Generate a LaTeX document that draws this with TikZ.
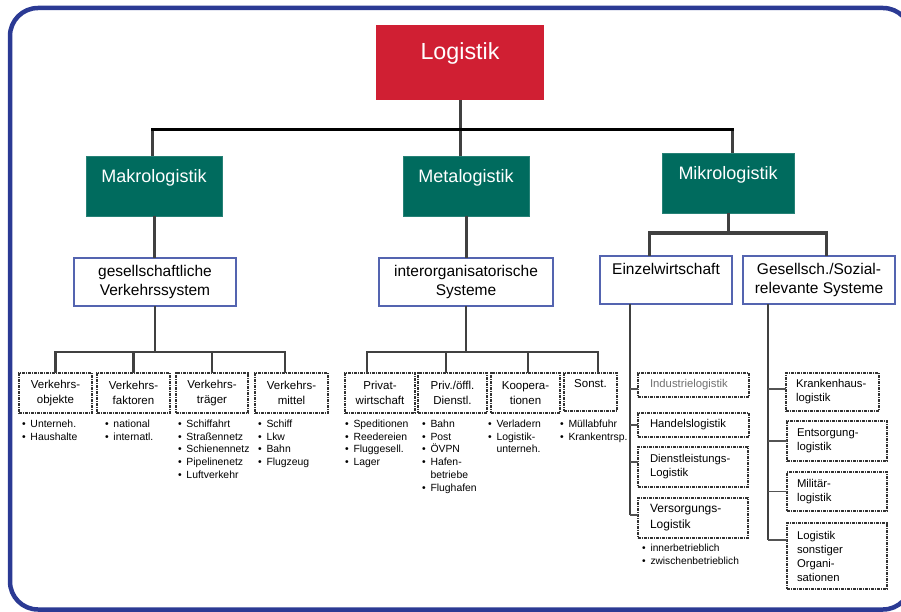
\documentclass[tikz,border=0pt]{standalone}
\usepackage{fontspec}
\setmainfont{Liberation Sans}
\usetikzlibrary{calc}
\definecolor{frameblue}{HTML}{2B3A94}
\definecolor{logred}{HTML}{D01F33}
\definecolor{tealbox}{HTML}{006B5E}
\definecolor{boxblue}{HTML}{5464B0}
\definecolor{conngray}{HTML}{404040}
\definecolor{dashgray}{HTML}{333333}
\definecolor{lightgraytext}{HTML}{707070}
\newcommand\lbul{\makebox[8.5pt][l]{\textbullet}}
\tikzset{
  every node/.style={inner sep=0pt, outer sep=0pt},
  outerframe/.style={draw=frameblue, line width=4.5pt, rounded corners=28pt},
  redbox/.style={fill=logred, minimum width=168pt, minimum height=75pt},
  tbox/.style={fill=tealbox, draw=tealbox!85!white, line width=0.8pt},
  bigtext/.style={text=white, font=\fontsize{23.3}{26}\selectfont, anchor=base},
  midtext/.style={text=white, font=\fontsize{18}{21}\selectfont, anchor=base},
  wbox/.style={draw=boxblue, line width=1.3pt, fill=white, align=center,
    font=\fontsize{15.5}{19}\selectfont, minimum height=48pt},
  dbox/.style={draw=dashgray, line width=1.4pt,
    dash pattern=on 2.6pt off 1.2pt on 1pt off 1.2pt, align=center,
    font=\fontsize{11.5}{15.5}\selectfont},
  lbox/.style={draw=dashgray, line width=1.4pt,
    dash pattern=on 2.6pt off 1.2pt on 1pt off 1.2pt, align=left,
    font=\fontsize{11.3}{14}\selectfont},
  lst/.style={anchor=north west, align=left, font=\fontsize{10.4}{12.7}\selectfont},
  conn/.style={draw=conngray, line width=3pt},
  conn2/.style={draw=conngray, line width=2.6pt},
  busline/.style={draw=black, line width=3pt, line cap=rect},
  tickline/.style={draw=conngray!90!white, line width=1.2pt},
}
\begin{document}
\begin{tikzpicture}[x=1pt,y=-1pt]
\useasboundingbox (0,0) rectangle (901,612);
\clip (0,0) rectangle (901,612);
\draw[outerframe] (10,8) rectangle (911,609.5);

% ---------- top level
\node[redbox] (logistik) at (460,62.5) {};
\node[bigtext] (logistikt) at (460,60) {Logistik};

\node[tbox, minimum width=136pt, minimum height=60pt] (makro) at (154,186) {};
\node[midtext] (makrot) at (154,183) {Makrologistik};
\node[tbox, minimum width=126pt, minimum height=60pt] (meta) at (466,186) {};
\node[midtext] (metat) at (466,183) {Metalogistik};
\node[tbox, minimum width=132pt, minimum height=60pt] (mikro) at (728,183) {};
\node[midtext] (mikrot) at (728,180) {Mikrologistik};

% ---------- second level
\node[wbox, minimum width=162pt] (gesell) at (155,282) {gesellschaftliche\\Verkehrssystem};
\node[wbox, minimum width=174pt] (interorg) at (466,282) {interorganisatorische\\Systeme};
\node[wbox, minimum width=132pt] (einzel) at (666,280) {Einzelwirtschaft\\\phantom{g}};
\node[wbox, minimum width=152pt] (gesellsch) at (819,280) {Gesellsch./Sozial-\\relevante Systeme};

% ---------- small boxes
\node[dbox, minimum width=73pt, minimum height=40pt] (objekte) at (55.5,393) {Verkehrs-\\objekte};
\node[dbox, minimum width=73pt, minimum height=40pt] (faktoren) at (133.5,393) {Verkehrs-\\faktoren};
\node[dbox, minimum width=72pt, minimum height=40pt] (traeger) at (212,393) {Verkehrs-\\träger};
\node[dbox, minimum width=73pt, minimum height=40pt] (mittel) at (291.5,393) {Verkehrs-\\mittel};
\node[dbox, minimum width=70pt, minimum height=40pt] (privat) at (380,393) {Privat-\\wirtschaft};
\node[dbox, minimum width=69pt, minimum height=40pt] (priv) at (452.5,393) {Priv./öffl.\\Dienstl.};
\node[dbox, minimum width=69pt, minimum height=40pt] (koop) at (525.5,393) {Koopera-\\tionen};
\node[dbox, minimum width=53pt, minimum height=38pt] (sonst) at (590.5,392) {Sonst.\\\phantom{g}};

% ---------- bullet lists
\node[lst] (l1) at (22,420) {\lbul Unterneh.\\\lbul Haushalte};
\node[lst] (l2) at (105,420) {\lbul national\\\lbul internatl.};
\node[lst] (l3) at (178,420) {\lbul Schiffahrt\\\lbul Straßennetz\\\lbul Schienennetz\\\lbul Pipelinenetz\\\lbul Luftverkehr};
\node[lst] (l4) at (258,420) {\lbul Schiff\\\lbul Lkw\\\lbul Bahn\\\lbul Flugzeug};
\node[lst] (l5) at (345,420) {\lbul Speditionen\\\lbul Reedereien\\\lbul Fluggesell.\\\lbul Lager};
\node[lst] (l6) at (422,420) {\lbul Bahn\\\lbul Post\\\lbul ÖVPN\\\lbul Hafen-\\\hspace*{8.5pt}betriebe\\\lbul Flughafen};
\node[lst] (l7) at (488,420) {\lbul Verladern\\\lbul Logistik-\\\hspace*{8.5pt}unterneh.};
\node[lst] (l8) at (560,420) {\lbul Müllabfuhr\\\lbul Krankentrsp.};

% ---------- right column boxes
\node[lbox, inner xsep=12pt, text width=87pt, minimum height=24pt, text=lightgraytext] (industrie) at (693.5,385) {Industrielogistik};
\node[lbox, inner xsep=12pt, text width=87pt, minimum height=24pt] (handels) at (693.5,425) {Handelslogistik};
\node[lbox, inner xsep=12pt, text width=86pt, minimum height=40pt] (dienst) at (693,467) {Dienstleistungs-\\Logistik};
\node[lbox, inner xsep=12pt, text width=86pt, minimum height=40pt, font=\fontsize{12}{16}\selectfont] (versorg) at (693,518) {Versorgungs-\\Logistik};
\node[lst, font=\fontsize{10.2}{13.5}\selectfont] (l9) at (642,544) {\lbul innerbetrieblich\\\lbul zwischenbetrieblich};

\node[lbox, inner xsep=10pt, text width=73pt, minimum height=38pt] (kranken) at (832.5,392) {Krankenhaus-\\logistik};
\node[lbox, inner xsep=10pt, text width=80pt, minimum height=40pt] (entsorg) at (837,441) {Entsorgung-\\logistik};
\node[lbox, inner xsep=10pt, text width=80pt, minimum height=39pt] (militaer) at (837,491.5) {Militär-\\logistik};
\node[lbox, inner xsep=10pt, text width=80pt, minimum height=66pt] (sonstorg) at (837,556) {Logistik\\sonstiger\\Organi-\\sationen};

% ---------- connectors: top
\coordinate (bus) at (460,130);
\draw[conn] (logistik.south) -- (logistik.south |- meta.north);
\draw[conn] ([xshift=-2pt]makro.north) -- ([xshift=-2pt]makro.north |- bus);
\draw[conn] ([xshift=4pt]mikro.north) -- ([xshift=4pt]mikro.north |- bus);
\draw[busline] ([xshift=-2pt]makro.north |- bus) -- ([xshift=4pt]mikro.north |- bus);

% second level
\draw[conn] (makro.south) -- (makro.south |- gesell.north);
\draw[conn] (meta.south) -- (meta.south |- interorg.north);
\coordinate (mbus) at (728,233);
\draw[conn] (mikro.south) -- (mikro.south |- mbus);
\draw[conn] ([xshift=-17pt]einzel.north) |- ([xshift=7pt]gesellsch.north |- mbus) -- ([xshift=7pt]gesellsch.north);

% lower left bus
\coordinate (lbus) at (155,352);
\draw[conn2] (gesell.south) -- (gesell.south |- lbus);
\draw[conn2] (objekte.north) |- ([xshift=-6.5pt]mittel.north |- lbus) -- ([xshift=-6.5pt]mittel.north);
\draw[conn2] (faktoren.north) -- (faktoren.north |- lbus);
\draw[conn2] (traeger.north) -- (traeger.north |- lbus);

% middle bus
\coordinate (mbus2) at (466,352);
\draw[conn2] (interorg.south) -- (interorg.south |- mbus2);
\draw[conn2] ([xshift=-13pt]privat.north) |- ([xshift=7.5pt]sonst.north |- mbus2) -- ([xshift=7.5pt]sonst.north);
\draw[conn2] ([xshift=-6.5pt]priv.north) -- ([xshift=-6.5pt]priv.north |- mbus2);
\draw[conn2] ([xshift=2.5pt]koop.north) -- ([xshift=2.5pt]koop.north |- mbus2);

% right verticals and ticks
\coordinate (ev) at ([xshift=-36pt]einzel.south);
\coordinate (t1) at ($(industrie.north west)+(0,16)$);
\coordinate (t2) at (handels.west);
\coordinate (t3) at ($(dienst.north west)+(0,15)$);
\coordinate (t4) at ($(versorg.north west)+(0,17)$);
\draw[conn2] (ev) -- (ev |- t4);
\foreach \t in {t1,t2,t3,t4} \draw[tickline] (\t) -- (ev |- \t);

\coordinate (gv) at ([xshift=-51pt]gesellsch.south);
\coordinate (k1) at ($(kranken.north west)+(0,16)$);
\coordinate (k2) at (entsorg.west);
\coordinate (k3) at (militaer.west);
\coordinate (k4) at ($(sonstorg.north west)+(0,17)$);
\draw[conn2] (gv) -- (gv |- k4);
\foreach \t in {k1,k2,k3,k4} \draw[tickline] (\t) -- (gv |- \t);
\end{tikzpicture}
\end{document}
